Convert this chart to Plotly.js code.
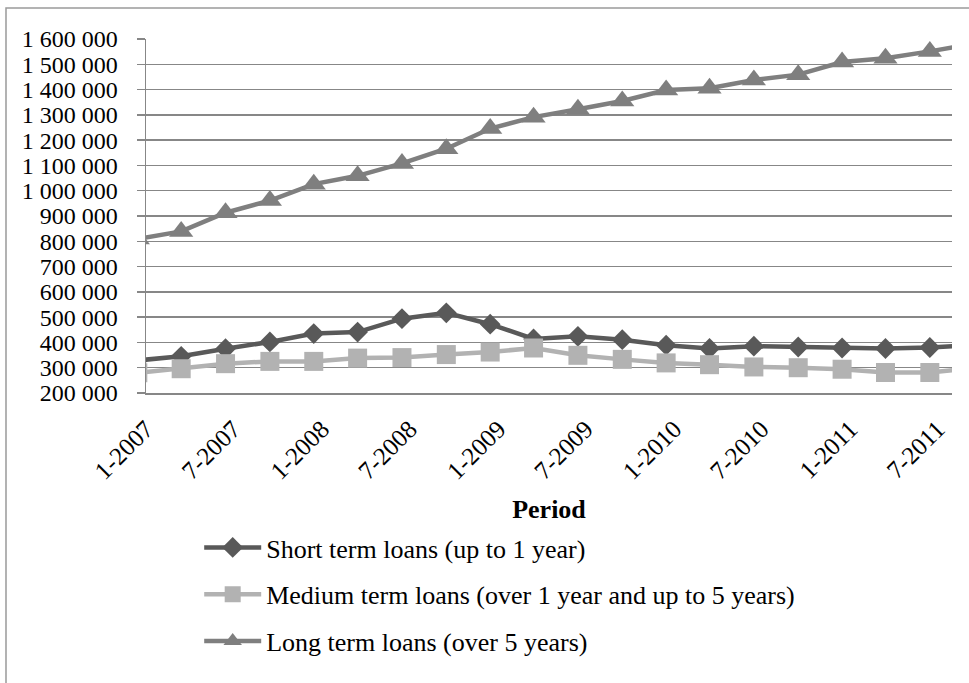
<!DOCTYPE html>
<html>
<head>
<meta charset="utf-8">
<script src="https://cdn.plot.ly/plotly-3.0.1.min.js"></script>
<style>
  html, body { margin: 0; padding: 0; background: #ffffff; }
  #chart { width: 969px; height: 683px; }
</style>
</head>
<body>
<div id="chart"></div>
<script>
// Quarterly observation dates (first and last lie just outside the visible axis range)
const periods = [
  "2006-12-15",
  "2007-03-15", "2007-06-15", "2007-09-15", "2007-12-15",
  "2008-03-15", "2008-06-15", "2008-09-15", "2008-12-15",
  "2009-03-15", "2009-06-15", "2009-09-15", "2009-12-15",
  "2010-03-15", "2010-06-15", "2010-09-15", "2010-12-15",
  "2011-03-15", "2011-06-15", "2011-09-15"
];

const shortTerm = [
  329000, 345000, 375000, 402000, 435000, 441000, 494000, 517000, 472000, 414000,
  424000, 411000, 389000, 376000, 385000, 382000, 378000, 376000, 380000, 390000
];
const mediumTerm = [
  280000, 296000, 316000, 325000, 325000, 338000, 340000, 352000, 362000, 378000,
  349000, 333000, 319000, 312000, 303000, 300000, 294000, 281000, 281000, 299000
];
const longTerm = [
  809000, 839000, 913000, 961000, 1026000, 1059000, 1108000, 1166000, 1246000, 1291000,
  1322000, 1355000, 1398000, 1405000, 1438000, 1459000, 1509000, 1524000, 1551000, 1582000
];

const seriesNames = [
  "Short term loans (up to 1 year)",
  "Medium term loans (over 1 year and up to 5 years)",
  "Long term loans (over 5 years)"
];

const xTitle = "Period";

const FONT = "Liberation Serif, Times New Roman, serif";
const FS = 26;

function mk(name, y, color, symbol, size, grp) {
  return {
    type: "scatter",
    mode: "lines+markers",
    name: name,
    x: periods,
    y: y,
    legendgroup: grp,
    line: { color: color, width: 4.5 },
    marker: { color: color, symbol: symbol, size: size, line: { width: 0 } },
    hoverinfo: "x+y+name"
  };
}

const traces = [
  mk(seriesNames[0], shortTerm, "#595959", "diamond", 16, "g1"),
  mk(seriesNames[1], mediumTerm, "#b2b2b2", "square", 19, "g2"),
  mk(seriesNames[2], longTerm, "#7f7f7f", "triangle-up", 21, "g3")
];

const layout = {
  width: 969,
  height: 683,
  margin: { l: 146, r: 17, t: 39, b: 290, pad: 0 },
  paper_bgcolor: "#ffffff",
  plot_bgcolor: "#ffffff",
  separators: ". ",
  font: { family: FONT, size: FS, color: "#000000" },
  showlegend: true,
  xaxis: {
    type: "date",
    range: ["2007-01-01", "2011-07-31"],
    tick0: "2007-01-01",
    dtick: "M6",
    tickformat: "%-m-%Y",
    tickangle: -45,
    showgrid: false,
    zeroline: false,
    showline: true,
    linecolor: "#878787",
    linewidth: 1.5,
    ticks: "",
    ticklabelstandoff: 10,
    tickfont: { family: FONT, size: 25, color: "#000000" },
    automargin: true,
    title: {
      text: "<b>" + xTitle + "</b>",
      font: { family: FONT, size: FS, color: "#000000" },
      standoff: 16
    }
  },
  yaxis: {
    range: [200000, 1600000],
    dtick: 100000,
    tick0: 200000,
    tickformat: ",d",
    showgrid: true,
    gridcolor: "#878787",
    gridwidth: 1.5,
    zeroline: false,
    showline: true,
    linecolor: "#878787",
    linewidth: 1.5,
    ticks: "outside",
    ticklen: 8,
    tickwidth: 1.5,
    tickcolor: "#878787",
    ticklabelstandoff: 14,
    tickfont: { family: FONT, size: 24, color: "#000000" },
    automargin: false
  },
  legend: {
    orientation: "v",
    x: 0.066,
    xanchor: "left",
    y: -0.37,
    yanchor: "top",
    traceorder: "grouped",
    tracegroupgap: 10,
    itemwidth: 57,
    bgcolor: "rgba(0,0,0,0)",
    font: { family: FONT, size: FS, color: "#000000" }
  },
  shapes: [
    {
      type: "rect",
      xref: "paper", yref: "paper",
      x0: -0.1737, x1: 1.03,
      y0: -0.83, y1: 1.0876,
      line: { color: "#9a9a9a", width: 1.5 },
      fillcolor: "rgba(0,0,0,0)",
      layer: "below"
    }
  ]
};

Plotly.newPlot("chart", traces, layout, { displayModeBar: false, staticPlot: true });
</script>
</body>
</html>
